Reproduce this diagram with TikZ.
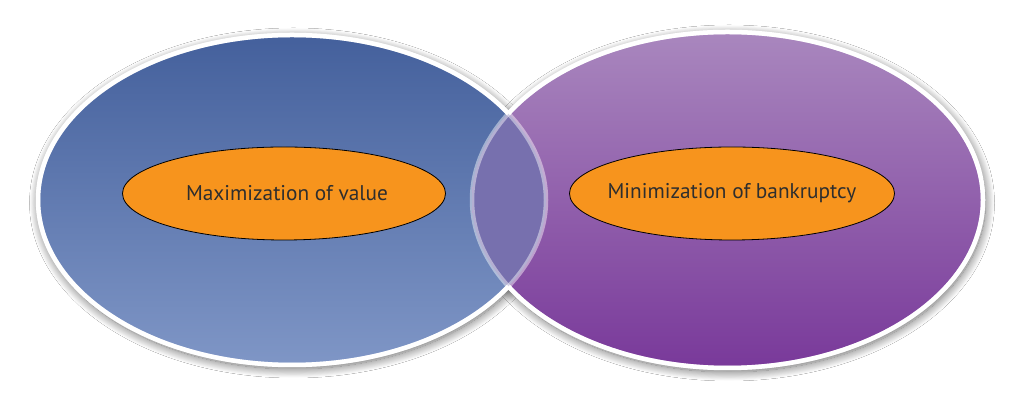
\documentclass[tikz,border=0pt]{standalone}
\usepackage{fontspec}
\setmainfont{PT Sans}
\usetikzlibrary{shapes.geometric,shadows.blur}
\definecolor{lefttop}{HTML}{44609C}
\definecolor{leftbot}{HTML}{7F96C6}
\definecolor{righttop}{HTML}{A987BE}
\definecolor{rightbot}{HTML}{79399A}
\definecolor{lenscol}{HTML}{7770AE}
\definecolor{orangefill}{HTML}{F7941D}
\definecolor{textcol}{HTML}{2E2E2E}
\begin{document}
\begin{tikzpicture}[x=1pt,y=1pt]
\tikzset{
  bigshadow/.style={blur shadow={shadow xshift=1.5pt, shadow yshift=-3pt, shadow blur radius=9pt, shadow blur steps=20, shadow opacity=60}},
  bigleft/.style={ellipse, inner sep=0pt, outer sep=0pt, minimum width=508pt, minimum height=330pt, top color=lefttop, bottom color=leftbot, draw=none},
  bigright/.style={ellipse, inner sep=0pt, outer sep=0pt, minimum width=511pt, minimum height=336pt, top color=righttop, bottom color=rightbot, draw=none},
  rim/.style={draw=white, line width=4.5pt},
  inner/.style={ellipse, inner sep=0pt, draw=black, line width=0.8pt, fill=orangefill, text=textcol, font=\fontsize{21.3}{24}\selectfont},
}
\useasboundingbox (0,0) rectangle (1022,395);
\fill[white] (0,0) rectangle (1022,395);
% shadows
\path[bigshadow] (292,195) ellipse [x radius=255, y radius=166];
\path[bigshadow] (727.5,195) ellipse [x radius=256.5, y radius=169];
% big ellipses
\node[bigleft] (L) at (292,195) {};
\node[bigright] (R) at (727.5,195) {};
% lens
\begin{scope}
  \clip (L.center) ellipse [x radius=254, y radius=165];
  \fill[lenscol] (R.center) ellipse [x radius=255.5, y radius=168];
\end{scope}
% translucent rims everywhere
\draw[rim, draw opacity=0.45] (L.center) ellipse [x radius=254, y radius=165];
\draw[rim, draw opacity=0.45] (R.center) ellipse [x radius=255.5, y radius=168];
% solid rims outside overlap
\begin{scope}[even odd rule]
  \clip (0,0) rectangle (1022,395) (R.center) ellipse [x radius=255.5, y radius=168];
  \draw[rim] (L.center) ellipse [x radius=254, y radius=165];
\end{scope}
\begin{scope}[even odd rule]
  \clip (0,0) rectangle (1022,395) (L.center) ellipse [x radius=254, y radius=165];
  \draw[rim] (R.center) ellipse [x radius=255.5, y radius=168];
\end{scope}
% inner ellipses
\node[inner, minimum width=323pt, minimum height=93pt] (A) at (284,201.5) {\makebox[0pt]{\hspace*{6pt}\raisebox{-2pt}{Maximization of value}}};
\node[inner, minimum width=325pt, minimum height=93pt] (B) at (732,201.5) {\makebox[0pt]{\raisebox{-2pt}{Minimization of bankruptcy}}};
\end{tikzpicture}
\end{document}
